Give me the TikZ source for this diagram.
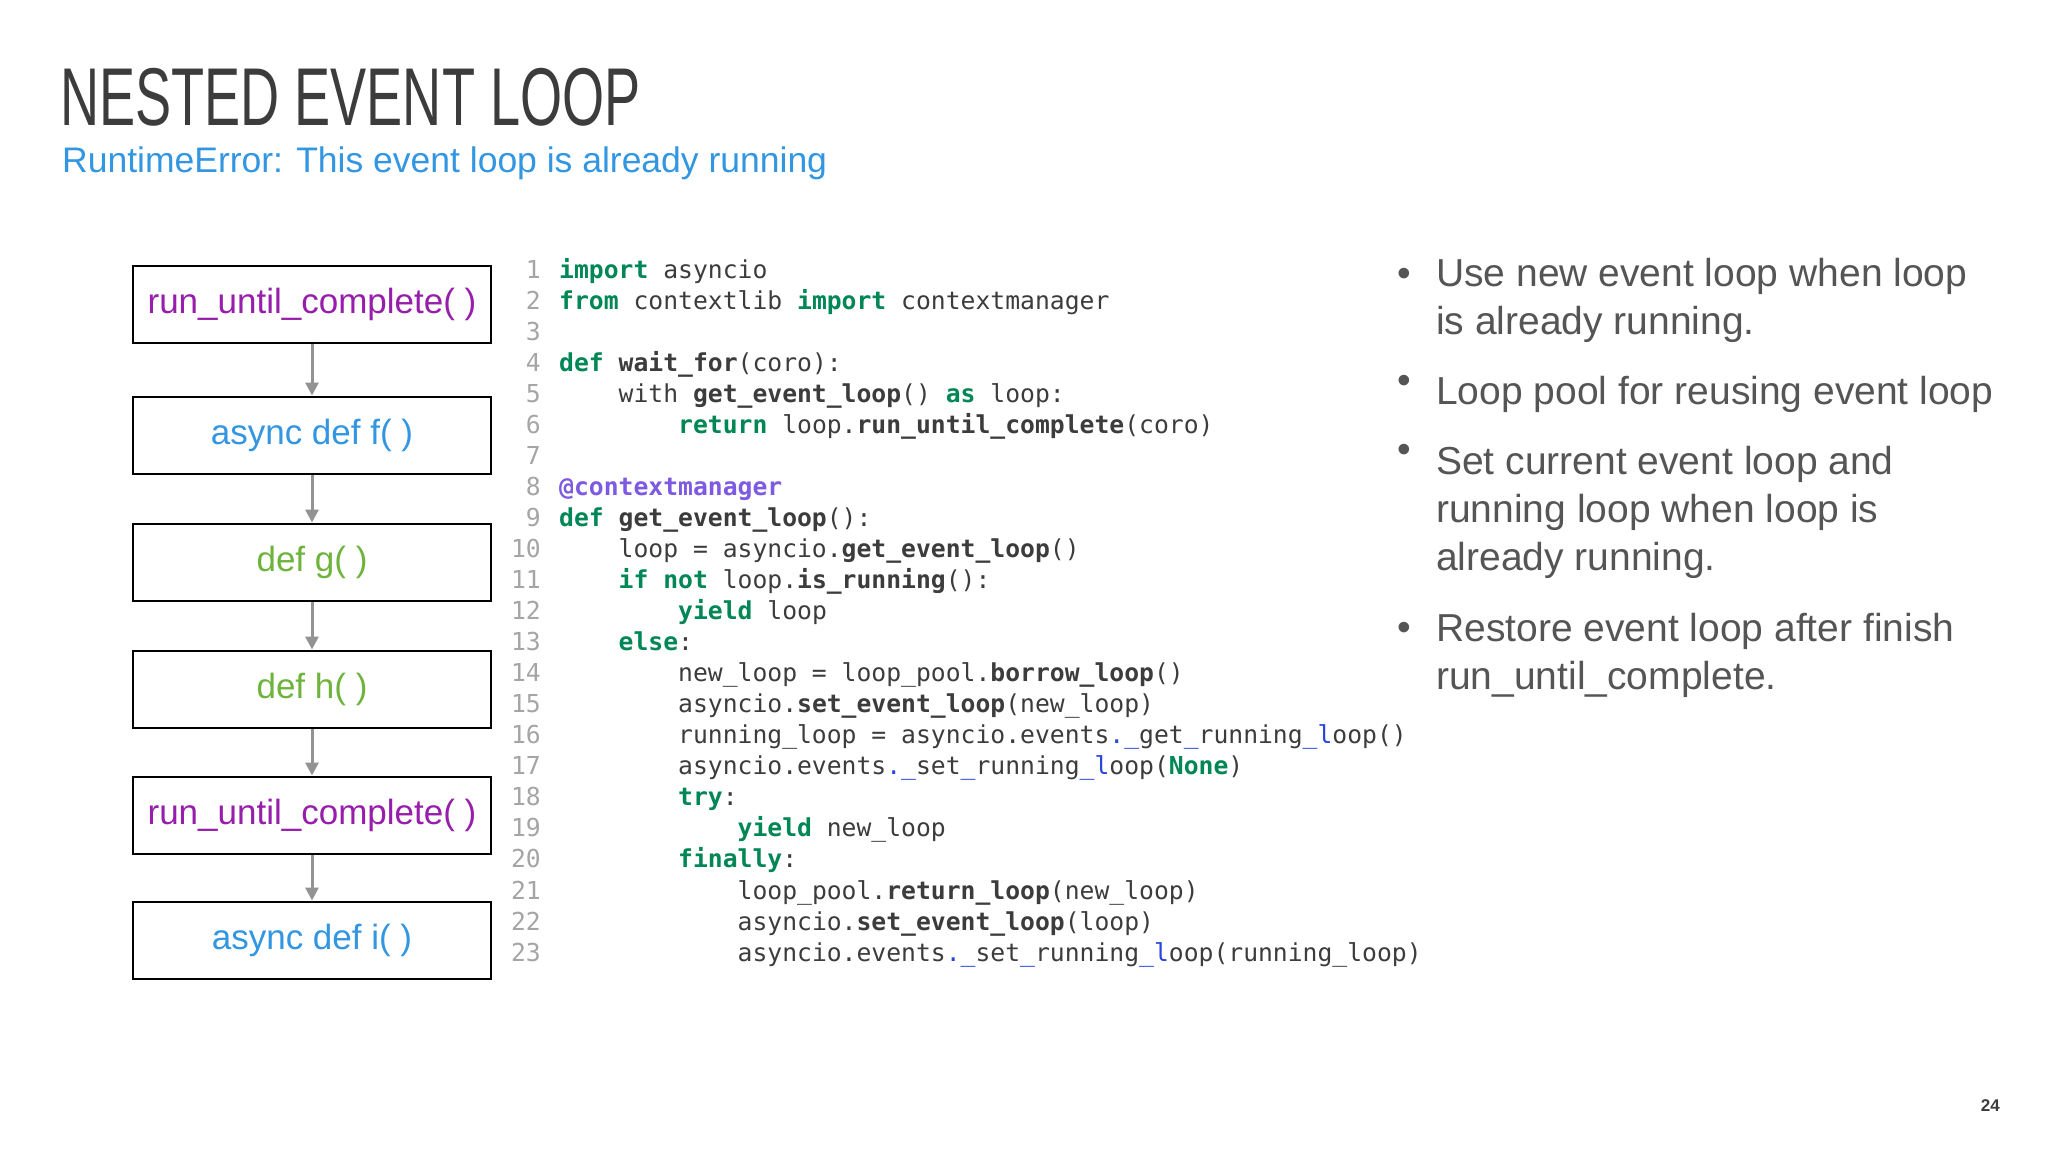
\documentclass[tikz,border=0pt]{standalone}
\usepackage{fontspec}
\setmainfont{Liberation Sans}
\newfontfamily\codefont{DejaVu Sans Mono}
\usetikzlibrary{arrows.meta}
\definecolor{kwc}{RGB}{0,135,85}
\definecolor{decc}{RGB}{125,90,225}
\definecolor{blc}{RGB}{40,70,220}
\definecolor{txc}{RGB}{60,60,60}
\definecolor{lnc}{RGB}{165,165,165}
\definecolor{purp}{RGB}{150,30,170}
\definecolor{bluef}{RGB}{50,150,225}
\definecolor{greenf}{RGB}{110,180,60}
\definecolor{bullc}{RGB}{85,85,85}
\newcommand{\kw}[1]{\textcolor{kwc}{\bfseries #1}}
\newcommand{\fn}[1]{{\bfseries #1}}
\newcommand{\bl}[1]{\textcolor{blc}{#1}}
\newcommand{\dc}[1]{\textcolor{decc}{\bfseries #1}}
\begin{document}
\begin{tikzpicture}[x=1pt,y=-1pt,
  fbox/.style={draw=black,line width=2pt,minimum width=358pt,minimum height=77pt,inner sep=0pt,font=\fontsize{35}{40}\selectfont},
  arr/.style={draw=gray!85,line width=3pt,-{Triangle[length=13pt,width=13pt]}},
  cl/.style={anchor=base west,inner sep=0pt,text=txc,font=\codefont\fontsize{24.7}{28}\selectfont},
  ln/.style={anchor=base east,inner sep=0pt,text=lnc,font=\codefont\fontsize{24.7}{28}\selectfont},
  bt/.style={anchor=base west,inner sep=0pt,text=bullc,font=\fontsize{39}{46}\selectfont},
  bd/.style={anchor=base west,inner sep=0pt,text=bullc,font=\fontsize{39}{46}\selectfont}]
\useasboundingbox (0,0) rectangle (2048,1152);
\fill[white] (0,0) rectangle (2048,1152);
% title
\node[anchor=base west,inner sep=0pt,text=txc] (title) at (60,125)
  {\scalebox{0.66}[1]{\fontsize{82}{90}\selectfont NESTED EVENT LOOP}};
\node[anchor=base west,inner sep=0pt,text=bluef,font=\fontsize{35.5}{40}\selectfont] (sub) at (62,172)
  {RuntimeError: This event loop is already running};
% boxes
\node[fbox,text=purp] (b1) at (312,304) {run\_until\_complete( )};
\node[fbox,text=bluef] (b2) at (312,435) {async def f( )};
\node[fbox,text=greenf] (b3) at (312,562) {def g( )};
\node[fbox,text=greenf] (b4) at (312,689) {def h( )};
\node[fbox,text=purp] (b5) at (312,815) {run\_until\_complete( )};
\node[fbox,text=bluef] (b6) at (312,940) {async def i( )};
\foreach \a/\b in {b1/b2,b2/b3,b3/b4,b4/b5,b5/b6} \draw[arr] (\a.south) -- (\b.north);
% code
\foreach \i [evaluate=\i as \yy using 278+31.05*(\i-1)] in {1,...,23}
  \node[ln] (n\i) at (541,\yy) {\i};
\def\Y#1{278+31.05*(#1-1)}
\node[cl] (c1) at (559,{\Y{1}}) {\kw{import} asyncio};
\node[cl] (c2) at (559,{\Y{2}}) {\kw{from} contextlib \kw{import} contextmanager};
\node[cl] (c4) at (559,{\Y{4}}) {\kw{def} \fn{wait\_for}(coro):};
\node[cl] (c5) at (559,{\Y{5}}) {\hphantom{xxxx}with \fn{get\_event\_loop}() \kw{as} loop:};
\node[cl] (c6) at (559,{\Y{6}}) {\hphantom{xxxxxxxx}\kw{return} loop.\fn{run\_until\_complete}(coro)};
\node[cl] (c8) at (559,{\Y{8}}) {\dc{@contextmanager}};
\node[cl] (c9) at (559,{\Y{9}}) {\kw{def} \fn{get\_event\_loop}():};
\node[cl] (c10) at (559,{\Y{10}}) {\hphantom{xxxx}loop = asyncio.\fn{get\_event\_loop}()};
\node[cl] (c11) at (559,{\Y{11}}) {\hphantom{xxxx}\kw{if} \kw{not} loop.\fn{is\_running}():};
\node[cl] (c12) at (559,{\Y{12}}) {\hphantom{xxxxxxxx}\kw{yield} loop};
\node[cl] (c13) at (559,{\Y{13}}) {\hphantom{xxxx}\kw{else}:};
\node[cl] (c14) at (559,{\Y{14}}) {\hphantom{xxxxxxxx}new\_loop = loop\_pool.\fn{borrow\_loop}()};
\node[cl] (c15) at (559,{\Y{15}}) {\hphantom{xxxxxxxx}asyncio.\fn{set\_event\_loop}(new\_loop)};
\node[cl] (c16) at (559,{\Y{16}}) {\hphantom{xxxxxxxx}running\_loop = asyncio.events\bl{.\_}get\bl{\_}running\bl{\_l}oop()};
\node[cl] (c17) at (559,{\Y{17}}) {\hphantom{xxxxxxxx}asyncio.events\bl{.\_}set\bl{\_}running\bl{\_l}oop(\kw{None})};
\node[cl] (c18) at (559,{\Y{18}}) {\hphantom{xxxxxxxx}\kw{try}:};
\node[cl] (c19) at (559,{\Y{19}}) {\hphantom{xxxxxxxxxxxx}\kw{yield} new\_loop};
\node[cl] (c20) at (559,{\Y{20}}) {\hphantom{xxxxxxxx}\kw{finally}:};
\node[cl] (c21) at (559,{\Y{21}}) {\hphantom{xxxxxxxxxxxx}loop\_pool.\fn{return\_loop}(new\_loop)};
\node[cl] (c22) at (559,{\Y{22}}) {\hphantom{xxxxxxxxxxxx}asyncio.\fn{set\_event\_loop}(loop)};
\node[cl] (c23) at (559,{\Y{23}}) {\hphantom{xxxxxxxxxxxx}asyncio.events\bl{.\_}set\bl{\_}running\bl{\_l}oop(running\_loop)};
% bullets
\foreach \yy in {286,393,462,640} \node[bd] at (1397,\yy) {•};
\node[bt] (t1a) at (1436,286) {Use new event loop when loop};
\node[bt] (t1b) at (1436,334) {is already running.};
\node[bt] (t2) at (1436,404) {Loop pool for reusing event loop};
\node[bt] (t3a) at (1436,474) {Set current event loop and};
\node[bt] (t3b) at (1436,522) {running loop when loop is};
\node[bt] (t3c) at (1436,570) {already running.};
\node[bt] (t4a) at (1436,641) {Restore event loop after finish};
\node[bt] (t4b) at (1436,689) {run\_until\_complete.};
\node[anchor=base east,inner sep=0pt,font=\bfseries\fontsize{17}{20}\selectfont,text=txc] (pg) at (2000,1111) {24};
\end{tikzpicture}
\end{document}
